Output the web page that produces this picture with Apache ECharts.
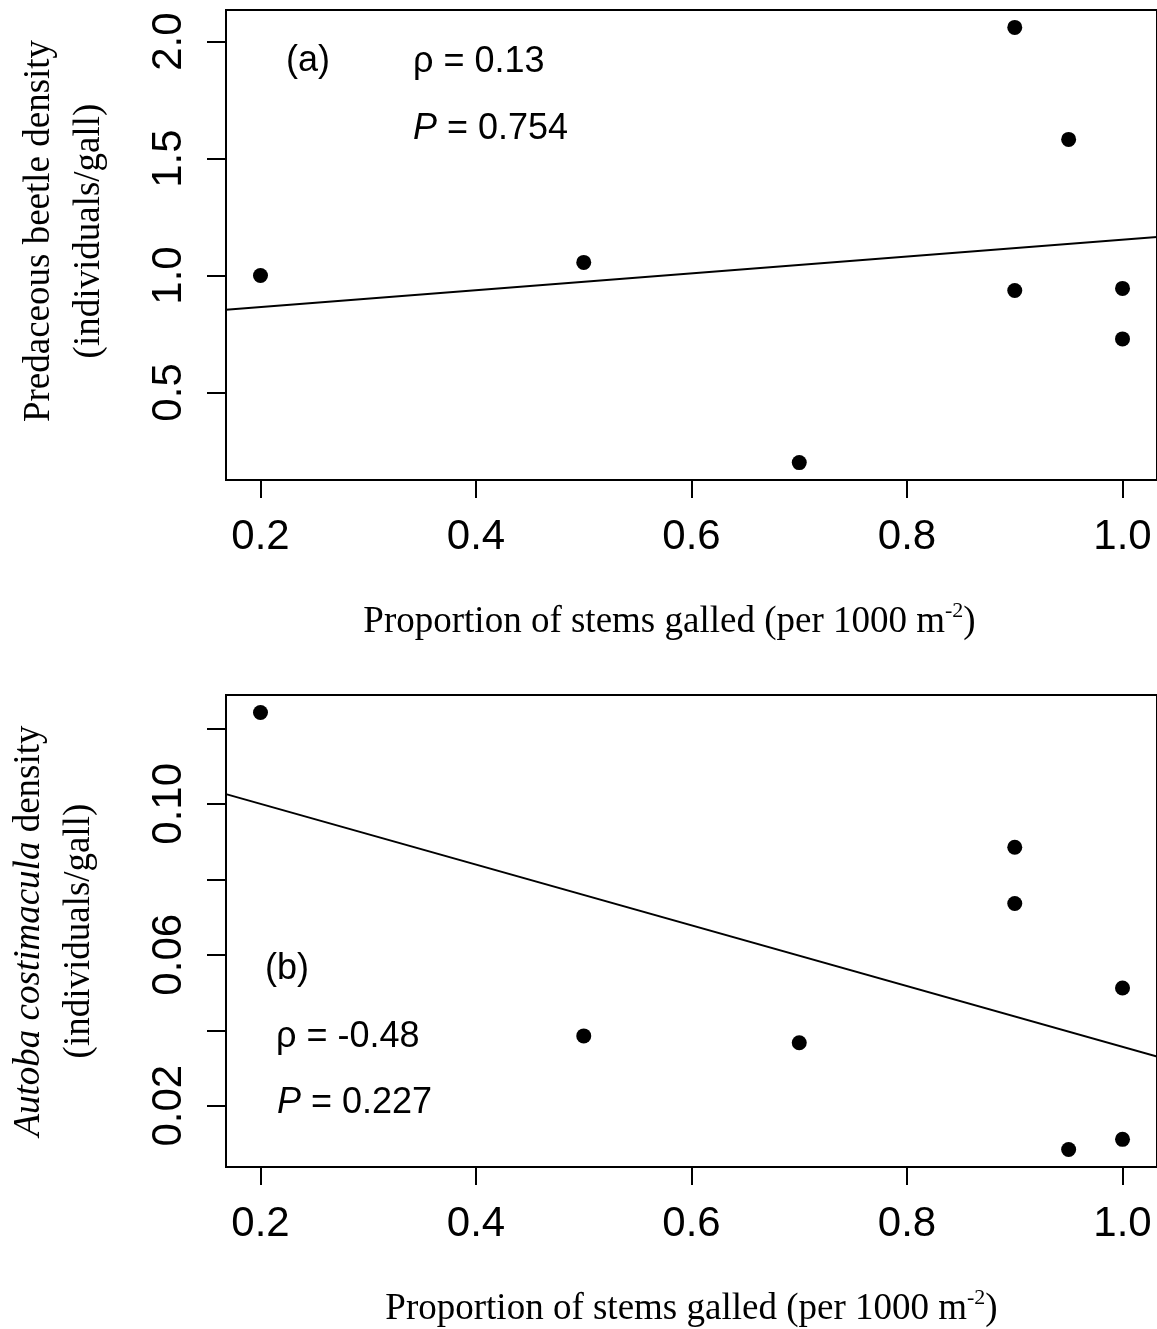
<!DOCTYPE html>
<html>
<head>
<meta charset="utf-8">
<script src="https://cdn.jsdelivr.net/npm/echarts@6/dist/echarts.min.js"></script>
<style>
html,body{margin:0;padding:0;background:#fff;}
#chart{width:1157px;height:1329px;}
</style>
</head>
<body>
<div id="chart"></div>
<script>
// ---- data ----
const propGalled   = [0.2, 0.5, 0.7, 0.9, 0.9, 0.95, 1.0, 1.0];
const beetleDens   = [1.0, 1.056, 0.2, 2.061, 0.936, 1.582, 0.945, 0.729];
const autobaDens   = [0.1242, 0.0385, 0.0367, 0.0885, 0.0736, 0.0084, 0.0512, 0.0111];
const beetleFit    = [0.793, 0.360];    // intercept, slope
const autobaFit    = [0.1161, -0.0805]; // intercept, slope
const xTicks       = [0.2, 0.4, 0.6, 0.8, 1.0];
const beetleTicks  = [0.5, 1.0, 1.5, 2.0];
const autobaTicks  = [0.02, 0.04, 0.06, 0.08, 0.10, 0.12];
const autobaLabels = [0.02, 0.06, 0.10];
const statsA = ['(a)', 'ρ = 0.13', '0.754'];
const statsB = ['(b)', 'ρ = -0.48', '0.227'];

function padRange(arr){
  const mn = Math.min(...arr), mx = Math.max(...arr), r = mx - mn;
  return [mn - 0.04*r, mx + 0.04*r];
}
const xR = padRange(propGalled);
const yRA = padRange(beetleDens);
const yRB = padRange(autobaDens);

const SANS = 'Liberation Sans';
const SERIF = 'Liberation Serif';
const ANN_FONT = '36px "Liberation Sans"';

function pts(ys){ return propGalled.map((x,i)=>[x, ys[i]]); }
function fitLine(f){ return [[xR[0], f[0]+f[1]*xR[0]], [xR[1], f[0]+f[1]*xR[1]]]; }

const xTitle = '{n|Proportion of stems galled (per 1000 m}{s|-2}{n|)}';
const xTitleRich = {
  n: {fontFamily: SERIF, fontSize: 37, color: '#000', lineHeight: 44},
  s: {fontFamily: SERIF, fontSize: 22, color: '#000', lineHeight: 22, verticalAlign: 'top'}
};

function xAxisCfg(gi, padShift){
  return {
    type: 'value', gridIndex: gi, min: xR[0], max: xR[1],
    name: xTitle, nameLocation: 'middle', nameGap: 120,
    nameTextStyle: {rich: xTitleRich, padding: padShift},
    axisLine: {show: false},
    axisTick: {show: true, length: 18, lineStyle: {color: '#000', width: 2}, customValues: xTicks},
    axisLabel: {show: true, customValues: xTicks, fontFamily: SANS, fontSize: 42, color: '#000',
      margin: 36, formatter: v => v.toFixed(1)},
    splitLine: {show: false}
  };
}

const option = {
  animation: false,
  backgroundColor: '#fff',
  grid: [
    {left: 226, top: 10, width: 934, height: 470, show: true, borderColor: '#000', borderWidth: 2, backgroundColor: 'transparent'},
    {left: 226, top: 695, width: 934, height: 472, show: true, borderColor: '#000', borderWidth: 2, backgroundColor: 'transparent'}
  ],
  xAxis: [ xAxisCfg(0, [0, 44, 0, 0]), xAxisCfg(1, [0, 0, 0, 0]) ],
  yAxis: [
    {
      type: 'value', gridIndex: 0, min: yRA[0], max: yRA[1],
      name: '{n|Predaceous beetle density}\n{n|(individuals/gall)}',
      nameLocation: 'middle', nameRotate: 90, nameGap: 112,
      nameTextStyle: {rich: {n: {fontFamily: SERIF, fontSize: 37, color: '#000', lineHeight: 50}}, padding: [0, 0, 0, 28]},
      axisLine: {show: false},
      axisTick: {show: true, length: 19, lineStyle: {color: '#000', width: 2}, customValues: beetleTicks},
      axisLabel: {show: true, customValues: beetleTicks, rotate: 90, fontFamily: SANS, fontSize: 42, color: '#000',
        margin: 36, formatter: v => v.toFixed(1)},
      splitLine: {show: false}
    },
    {
      type: 'value', gridIndex: 1, min: yRB[0], max: yRB[1],
      name: '{i|Autoba costimacula}{n| density}\n{n|(individuals/gall)}',
      nameLocation: 'middle', nameRotate: 90, nameGap: 122,
      nameTextStyle: {rich: {
        n: {fontFamily: SERIF, fontSize: 37, color: '#000', lineHeight: 50},
        i: {fontFamily: SERIF, fontSize: 37, color: '#000', lineHeight: 50, fontStyle: 'italic'}
      }},
      axisLine: {show: false},
      axisTick: {show: true, length: 19, lineStyle: {color: '#000', width: 2}, customValues: autobaTicks},
      axisLabel: {show: true, customValues: autobaLabels, rotate: 90, fontFamily: SANS, fontSize: 42, color: '#000',
        margin: 36, formatter: v => v.toFixed(2)},
      splitLine: {show: false}
    }
  ],
  series: [
    {type: 'scatter', xAxisIndex: 0, yAxisIndex: 0, data: pts(beetleDens), symbol: 'circle', symbolSize: 15,
      itemStyle: {color: '#000', opacity: 1}},
    {type: 'line', xAxisIndex: 0, yAxisIndex: 0, data: fitLine(beetleFit), symbol: 'none',
      lineStyle: {color: '#000', width: 2}},
    {type: 'scatter', xAxisIndex: 1, yAxisIndex: 1, data: pts(autobaDens), symbol: 'circle', symbolSize: 15,
      itemStyle: {color: '#000', opacity: 1}},
    {type: 'line', xAxisIndex: 1, yAxisIndex: 1, data: fitLine(autobaFit), symbol: 'none',
      lineStyle: {color: '#000', width: 2}}
  ],
  graphic: [
    {type: 'text', left: 286, top: 43, style: {text: statsA[0], font: ANN_FONT, fill: '#000'}},
    {type: 'text', left: 413, top: 44, style: {text: statsA[1], font: ANN_FONT, fill: '#000'}},
    {type: 'text', left: 413, top: 111, style: {text: '{i|P} = ' + statsA[2], font: ANN_FONT, fill: '#000',
      rich: {i: {fontStyle: 'italic', fontSize: 36, fontFamily: SANS}}}},
    {type: 'text', left: 265, top: 951, style: {text: statsB[0], font: ANN_FONT, fill: '#000'}},
    {type: 'text', left: 276, top: 1019, style: {text: statsB[1], font: ANN_FONT, fill: '#000'}},
    {type: 'text', left: 277, top: 1085, style: {text: '{i|P} = ' + statsB[2], font: ANN_FONT, fill: '#000',
      rich: {i: {fontStyle: 'italic', fontSize: 36, fontFamily: SANS}}}}
  ]
};
const chart = echarts.init(document.getElementById('chart'), null, {renderer: 'canvas'});
chart.setOption(option);
</script>
</body>
</html>
